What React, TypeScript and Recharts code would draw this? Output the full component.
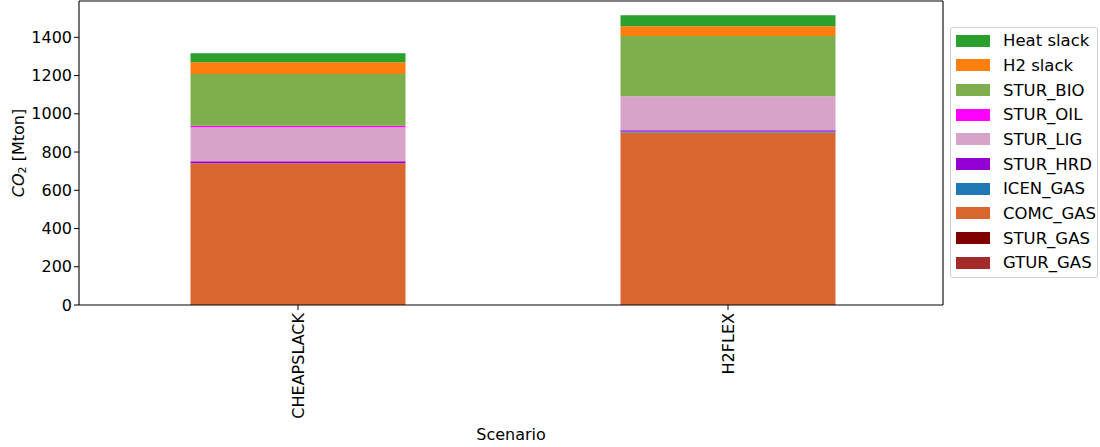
import React from "react";
import { BarChart, Bar, XAxis, YAxis } from "recharts";

const scenarios = ["CHEAPSLACK", "H2FLEX"];

// stacked bottom -> top
const GTUR_GAS = [0, 0];
const STUR_GAS = [0, 0];
const COMC_GAS = [742, 902];
const ICEN_GAS = [0, 6];
const STUR_HRD = [10, 6];
const STUR_LIG = [178, 178];
const STUR_OIL = [7, 0];
const STUR_BIO = [271, 315];
const H2_SLACK = [61, 51];
const HEAT_SLACK = [48, 57];

const yTicks = [0, 200, 400, 600, 800, 1000, 1200, 1400];

const SERIES = [
  { key: "GTUR_GAS", values: GTUR_GAS, color: "#a52a2a" },
  { key: "STUR_GAS", values: STUR_GAS, color: "#800000" },
  { key: "COMC_GAS", values: COMC_GAS, color: "#d9662e" },
  { key: "ICEN_GAS", values: ICEN_GAS, color: "#1f77b4" },
  { key: "STUR_HRD", values: STUR_HRD, color: "#9400d3" },
  { key: "STUR_LIG", values: STUR_LIG, color: "#d8a3c8" },
  { key: "STUR_OIL", values: STUR_OIL, color: "#ff00ff" },
  { key: "STUR_BIO", values: STUR_BIO, color: "#7faf4c" },
  { key: "H2 slack", values: H2_SLACK, color: "#ff7f0e" },
  { key: "Heat slack", values: HEAT_SLACK, color: "#2ca02c" },
];

const data = scenarios.map((s, i) => {
  const row: Record<string, string | number> = { scenario: s };
  SERIES.forEach(sr => { row[sr.key] = sr.values[i]; });
  return row;
});

const FONT = "'DejaVu Sans', sans-serif";

function XTick({ x, y, payload }: { x?: number; y?: number; payload?: { value: string } }) {
  return (
    <g transform={`translate(${x},${(y ?? 0) + 1})`}>
      <text transform="rotate(-90)" textAnchor="end" dominantBaseline="central"
        fontSize={16} fontFamily={FONT} fill="#000">
        {payload?.value}
      </text>
    </g>
  );
}

function YLabel({ viewBox }: { viewBox?: { x: number; y: number; width: number; height: number } }) {
  const cy = viewBox ? viewBox.y + viewBox.height / 2 : 153;
  return (
    <text transform={`translate(18,${cy}) rotate(-90)`} textAnchor="middle" dominantBaseline="central"
      fontSize={16} fontFamily={FONT} fill="#000">
      <tspan fontStyle="italic">CO</tspan>
      <tspan fontSize={11} dy={4}>2</tspan>
      <tspan dy={-4}> [Mton]</tspan>
    </text>
  );
}

function LegendBox() {
  return (
    <div style={{
      position: "absolute", left: 950, top: 27, boxSizing: "border-box", width: "148px",
      border: "1px solid #d0d0d0", borderRadius: "3px", background: "#fff",
      padding: "0.5px 2px 2px 5px", fontFamily: FONT,
    }}>
      {[...SERIES].reverse().map(s => (
        <div key={s.key} style={{ height: "24.67px", display: "flex", alignItems: "center" }}>
          <div style={{ width: "34px", height: "12px", flexShrink: 0, background: s.color, marginRight: "13px" }} />
          <span style={{ fontSize: "16.5px", color: "#000", whiteSpace: "nowrap" }}>{s.key}</span>
        </div>
      ))}
    </div>
  );
}

export default function App() {
  return (
    <div style={{ position: "absolute", left: 0, top: 0, width: 1100, height: 447, background: "#fff" }}>
      <BarChart width={1100} height={447} data={data} barCategoryGap="25%"
        margin={{ top: 0, right: 156, bottom: 0, left: 0 }}>
        <XAxis dataKey="scenario" height={142} tickSize={5} tick={<XTick />} padding={{ left: 4, right: 0 }}
          axisLine={{ stroke: "#000", strokeWidth: 1.1 }} tickLine={{ stroke: "#000" }}
          label={{ value: "Scenario", position: "insideBottom", offset: 7, fontSize: 16, fontFamily: FONT, fill: "#000" }} />
        <XAxis xAxisId="top" orientation="top" dataKey="scenario" height={1} tick={false} tickLine={false}
          axisLine={{ stroke: "#000", strokeWidth: 1.1 }} />
        <YAxis width={79} domain={[0, 1590]} ticks={yTicks} tickSize={5} tickMargin={2}
          allowDataOverflow
          tick={{ fontSize: 16, fontFamily: FONT, fill: "#000" }}
          axisLine={{ stroke: "#000", strokeWidth: 1.1 }} tickLine={{ stroke: "#000" }}
          label={<YLabel />} />
        <YAxis yAxisId="right" orientation="right" width={1} tick={false} tickLine={false}
          axisLine={{ stroke: "#000", strokeWidth: 1.1 }} />
        {SERIES.map(s => (
          <Bar key={s.key} dataKey={s.key} name={s.key} stackId="a" fill={s.color} isAnimationActive={false} />
        ))}
      </BarChart>
      <LegendBox />
    </div>
  );
}
